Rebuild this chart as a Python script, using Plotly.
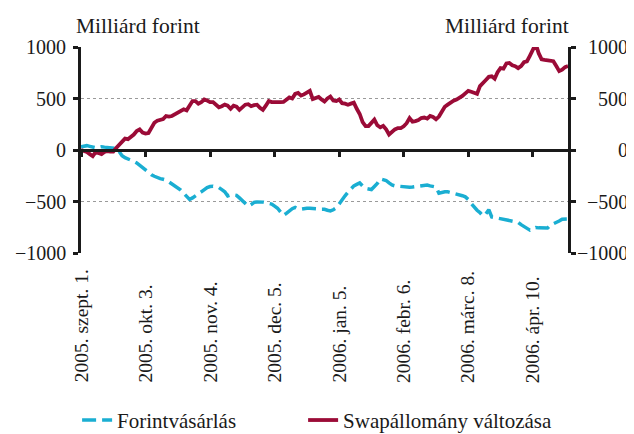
import plotly.graph_objects as go

# business-day index of each observation (2005-09-01 = 0)
days = list(range(167))

swap_change = [
    0, -10, -20, -40, -60, -20, -30, -40, -20, -10,
    -15, -15, 20, 50, 90, 110, 105, 125, 150, 185,
    200, 170, 160, 165, 220, 265, 285, 295, 300, 330,
    325, 330, 345, 365, 385, 395, 385, 430, 475, 475,
    450, 465, 490, 480, 465, 465, 440, 415, 425, 440,
    430, 400, 430, 420, 390, 420, 440, 445, 425, 435,
    440, 410, 390, 430, 475, 465, 462, 462, 464, 467,
    485, 510, 500, 545, 555, 528, 540, 560, 575, 495,
    505, 515, 490, 470, 500, 518, 480, 475, 490, 455,
    450, 440, 450, 460, 400, 350, 270, 232, 232, 270,
    295, 240, 220, 235, 200, 150, 180, 200, 213, 213,
    230, 260, 310, 275, 280, 290, 310, 315, 305, 330,
    320, 298, 325, 370, 420, 440, 465, 478, 490, 505,
    525, 550, 574, 565, 555, 545, 620, 655, 680, 710,
    715, 692, 755, 795, 790, 840, 845, 822, 814, 795,
    815, 852, 860, 915, 975, 1030, 940, 880, 875, 870,
    868, 862, 815, 766, 780, 805, 815,
]

forint_purchase = [
    30, 38, 42, 35, 28, 22, 26, 32, 28, 24,
    22, 20, 15, -15, -55, -75, -85, -92, -110, -125,
    -150, -176, -195, -215, -240, -255, -268, -278, -284, -292,
    -310, -330, -348, -370, -390, -420, -455, -480, -465, -440,
    -425, -406, -385, -365, -355, -352, -358, -365, -385, -405,
    -445, -435, -435, -440, -465, -495, -515, -545, -530, -508,
    -504, -502, -506, -512, -518, -525, -545, -565, -600, -635,
    -615, -592, -570, -558, -572, -574, -568, -565, -566, -566,
    -568, -572, -576, -576, -585, -592, -580, -562, -525, -480,
    -445, -410, -375, -348, -334, -320, -350, -372, -378, -384,
    -355, -325, -280, -288, -296, -320, -340, -348, -352, -357,
    -361, -362, -362, -360, -356, -350, -345, -338, -340, -348,
    -352, -360, -420, -410, -406, -406, -412, -422, -432, -438,
    -444, -455, -480, -520, -556, -585, -608, -640, -620, -580,
    -650, -656, -656, -665, -672, -680, -685, -688, -695, -702,
    -725, -745, -762, -778, -765, -752, -756, -758, -758, -758,
    -730, -718, -706, -690, -672, -672, -670,
]

x_tick_pos = [0, 22, 44, 66, 88, 110, 132, 154]
x_tick_labels = ["2005. szept. 1.", "2005. okt. 3.", "2005. nov. 4.", "2005. dec. 5.",
                 "2006. jan. 5.", "2006. febr. 6.", "2006. márc. 8.", "2006. ápr. 10."]
y_tick_vals = [-1000, -500, 0, 500, 1000]
y_tick_labels = ["−1000", "−500", "0", "500", "1000"]
unit_label = "Milliárd forint"
series_names = ["Forintvásárlás", "Swapállomány változása"]

FONT = "Liberation Serif"
RED = "#9B0B37"
BLUE = "#1AAED2"
INK = "#1a1a1a"

fig = go.Figure()
fig.add_trace(go.Scatter(x=days, y=forint_purchase, mode="lines", name=series_names[0],
                         legendwidth=181,
                         line=dict(color=BLUE, width=3.5, dash="14px,6px")))
fig.add_trace(go.Scatter(x=days, y=swap_change, mode="lines", name=series_names[1],
                         line=dict(color=RED, width=3.8)))

annotations = []
for pos, lab in zip(x_tick_pos, x_tick_labels):
    annotations.append(dict(x=pos, xref="x", y=-0.640, yref="paper", text=lab,
                            textangle=-90, showarrow=False, xanchor="center", yanchor="bottom",
                            font=dict(family=FONT, size=19.5, color=INK)))
for v, lab in zip(y_tick_vals, y_tick_labels):
    # left axis labels (right-aligned)
    annotations.append(dict(x=-0.0266, xref="paper", y=v, yref="y", text=lab, showarrow=False,
                            xanchor="right", yanchor="middle",
                            font=dict(family=FONT, size=20, color=INK)))
    # right axis labels (also right-aligned, as in the original)
    annotations.append(dict(x=1.128, xref="paper", y=v, yref="y", text=lab, showarrow=False,
                            xanchor="right", yanchor="middle",
                            font=dict(family=FONT, size=20, color=INK)))
annotations.append(dict(x=-0.0154, xref="paper", y=1.10, yref="paper", text=unit_label,
                        showarrow=False, xanchor="left", yanchor="middle",
                        font=dict(family=FONT, size=21.5, color=INK)))
annotations.append(dict(x=1.006, xref="paper", y=1.10, yref="paper", text=unit_label,
                        showarrow=False, xanchor="right", yanchor="middle",
                        font=dict(family=FONT, size=21.5, color=INK)))

fig.update_layout(
    width=626, height=426,
    margin=dict(l=72.5, r=65.5, t=38.5, b=180.5, pad=0, autoexpand=False),
    paper_bgcolor="white", plot_bgcolor="white",
    font=dict(family=FONT, size=20, color=INK),
    showlegend=True,
    legend=dict(orientation="h", x=-0.008, xanchor="left", y=-0.713, yanchor="top",
                font=dict(family=FONT, size=21, color=INK),
                bgcolor="rgba(0,0,0,0)", itemwidth=30, tracegroupgap=0),
    annotations=annotations,
    xaxis=dict(range=[0, 166], anchor="free", position=0.5, showgrid=False, zeroline=False,
               showline=True, linecolor=INK, linewidth=2.5, automargin=False,
               tickmode="array", tickvals=x_tick_pos, showticklabels=False,
               ticks="outside", ticklen=5, tickwidth=2.5, tickcolor=INK),
    yaxis=dict(range=[-1000, 1000], tickmode="array", tickvals=y_tick_vals,
               showticklabels=False,
               showline=True, linecolor=INK, linewidth=2.5, mirror="ticks", automargin=False,
               ticks="outside", ticklen=5, tickwidth=2.5, tickcolor=INK,
               showgrid=True, gridcolor="#9a9a9a", gridwidth=1, griddash="dot",
               zeroline=False),
)

fig.write_html("out.html")
